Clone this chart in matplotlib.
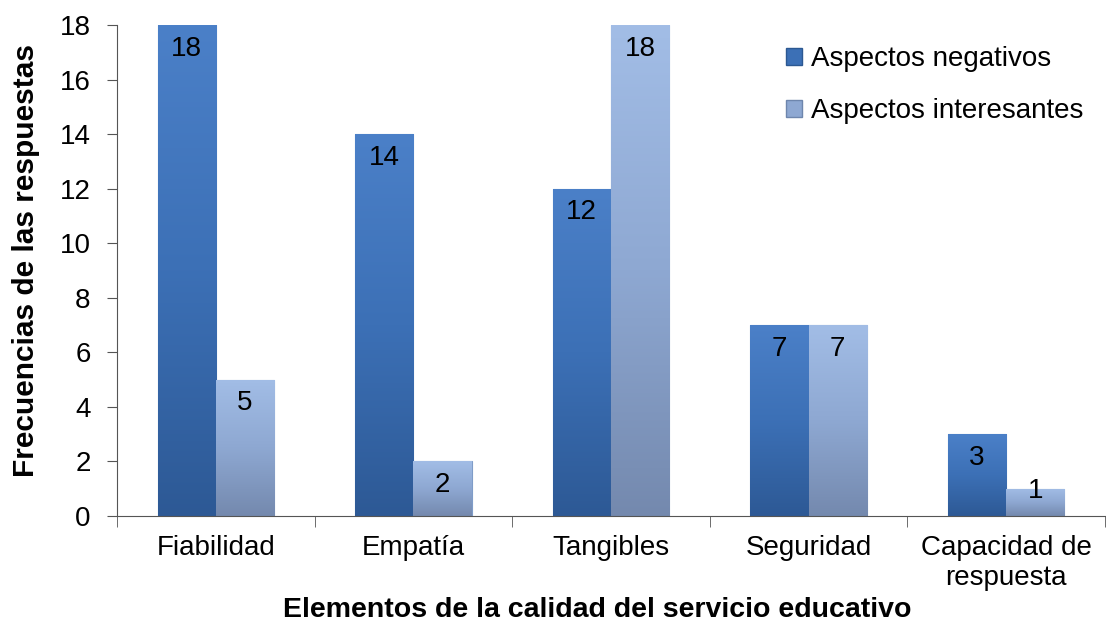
import matplotlib.pyplot as plt
import numpy as np
from matplotlib.colors import LinearSegmentedColormap
from matplotlib.patches import Patch

plt.rcParams['font.family'] = ['Liberation Sans', 'DejaVu Sans']

categorias = ['Fiabilidad', 'Empatía', 'Tangibles', 'Seguridad', 'Capacidad de\nrespuesta']
negativos = [18, 14, 12, 7, 3]
interesantes = [5, 2, 18, 7, 1]
series = ['Aspectos negativos', 'Aspectos interesantes']

# gradient colours (top -> bottom), excel 2007 look
grad_neg = ['#4b80c8', '#3c70b6', '#2d5995']
grad_int = ['#a2bde6', '#8ea8d2', '#7489ae']

fig = plt.figure(figsize=(11.06, 6.31), dpi=100)
ax = fig.add_axes([0.1058, 0.1823, 0.8932, 0.7781])

x = np.arange(len(categorias))
w = 0.295


def gradient_bars(xs, vals, colors):
    cmap = LinearSegmentedColormap.from_list('g', colors[::-1])
    bars = ax.bar(xs, vals, w, color=colors[1], edgecolor='#7f9cc8', linewidth=0.8, zorder=2)
    grad = np.linspace(0, 1, 256).reshape(-1, 1)
    for b in bars:
        x0, h = b.get_x(), b.get_height()
        im = ax.imshow(grad, cmap=cmap, origin='lower', aspect='auto',
                       extent=[x0, x0 + b.get_width(), 0, h], zorder=2.5)
        im.set_clip_path(b)
        off = -17 if h > 1.5 else -1.5
        ax.annotate(str(h), (x0 + b.get_width() / 2, h),
                    xytext=(0, off), textcoords='offset points', ha='center', va='center',
                    fontsize=20, color='black', zorder=4)
    return bars


gradient_bars(x - w / 2, negativos, grad_neg)
gradient_bars(x + w / 2, interesantes, grad_int)

ax.set_xlim(-0.5, len(categorias) - 0.5)
ax.set_ylim(0, 18)
ax.set_yticks(np.arange(0, 19, 2))
ax.set_xticks(x)
ax.set_xticklabels(categorias, fontsize=20)
ax.set_xticks(np.arange(-0.5, len(categorias), 1), minor=True)
ax.tick_params(axis='x', which='major', length=0, pad=14)
ax.tick_params(axis='x', which='minor', length=8, direction='out', color='#555555')
ax.tick_params(axis='y', labelsize=20, length=7, direction='out', color='#555555', pad=12)

for s in ['top', 'right']:
    ax.spines[s].set_visible(False)
for s in ['left', 'bottom']:
    ax.spines[s].set_color('#555555')

ax.set_ylabel('Frecuencias de las respuestas', fontsize=21.5, fontweight='bold', labelpad=14, y=0.52)
ax.set_xlabel('Elementos de la calidad del servicio educativo', fontsize=20.5,
              fontweight='bold', labelpad=4, x=0.486)

handles = [Patch(facecolor=grad_neg[1], edgecolor='#2c5892'),
           Patch(facecolor=grad_int[1], edgecolor='#6e86ad')]
ax.legend(handles, series, loc='upper right', bbox_to_anchor=(1.004, 1.008), fontsize=20,
          frameon=False, handlelength=0.55, handleheight=0.55, handletextpad=0.35,
          labelspacing=0.95)

fig.savefig('out.png', dpi=100)
